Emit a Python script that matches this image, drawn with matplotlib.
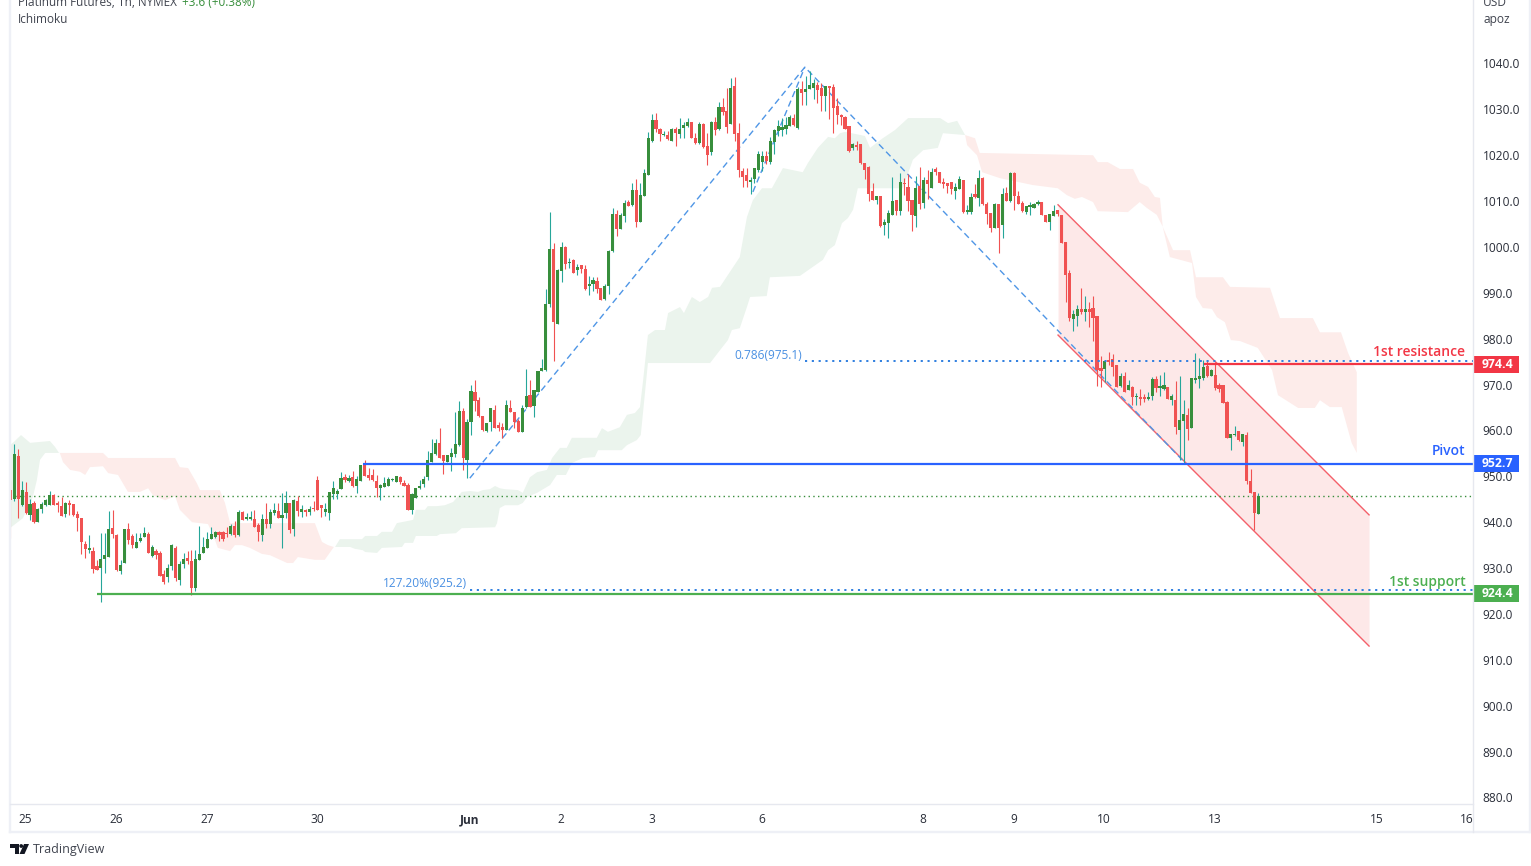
import numpy as np
import matplotlib
matplotlib.use("Agg")
import matplotlib.pyplot as plt
from matplotlib.lines import Line2D
from matplotlib.patches import Polygon, Circle, Rectangle
from matplotlib.transforms import blended_transform_factory, IdentityTransform

plt.rcParams['font.family'] = ['Open Sans', 'DejaVu Sans']

opens = [945.0,954.4,943.8,946.6,941.6,944.2,940.1,942.9,943.8,943.8,
945.9,944.2,943.5,941.7,944.0,944.0,941.8,940.9,935.3,934.0,
933.7,930.5,930.0,932.0,932.4,938.7,937.2,929.4,931.1,938.5,
937.0,934.4,935.9,936.8,937.4,932.6,933.7,933.3,928.7,928.1,
930.5,934.4,927.4,930.9,932.2,931.5,925.7,931.8,933.3,934.4,
936.3,936.8,937.9,937.9,937.7,937.4,939.2,937.2,942.2,940.7,
940.7,940.7,939.4,937.2,940.7,939.6,942.0,942.5,940.9,942.0,
944.2,938.5,944.6,942.2,942.7,942.2,943.1,949.2,943.8,942.2,
942.0,946.2,946.2,947.3,949.9,949.0,949.9,947.9,949.0,952.9,
950.3,950.3,949.0,947.5,947.7,947.9,949.2,948.8,949.9,948.5,
948.1,942.7,945.3,947.5,948.3,949.9,953.2,954.9,957.2,954.6,
953.1,954.3,954.9,956.8,964.2,953.6,961.8,968.4,966.6,963.2,
959.9,961.8,964.5,961.2,960.8,960.1,964.9,964.0,962.1,959.7,
965.1,967.7,965.3,968.4,973.0,973.2,987.6,999.6,983.2,994.8,
1000.0,996.5,997.2,995.0,996.1,995.2,991.5,991.9,992.6,991.1,
988.7,991.5,999.1,1007.2,1003.9,1006.8,1009.8,1009.2,1012.4,1005.4,
1011.1,1015.7,1023.1,1027.7,1025.7,1024.4,1024.4,1023.1,1025.7,1024.6,
1025.9,1026.3,1027.2,1023.8,1022.7,1026.8,1022.0,1020.7,1027.2,1025.7,
1030.5,1029.6,1026.8,1035.1,1024.8,1016.6,1015.7,1014.2,1014.8,1016.8,
1018.5,1019.8,1018.5,1022.9,1025.3,1025.5,1025.7,1026.4,1028.1,1026.0,
1034.4,1033.8,1034.4,1034.7,1035.3,1034.7,1032.9,1035.1,1034.9,1030.7,
1028.8,1028.3,1026.4,1021.6,1022.2,1022.4,1018.3,1017.4,1012.2,1010.2,
1011.1,1004.8,1005.2,1007.0,1010.2,1007.8,1014.0,1013.1,1010.2,1006.8,
1013.3,1009.6,1014.6,1012.9,1017.0,1016.3,1014.2,1013.9,1014.2,1012.2,
1012.6,1014.6,1007.6,1007.6,1011.5,1010.7,1015.0,1009.4,1007.4,1004.1,
1009.4,1004.8,1011.8,1010.0,1016.1,1011.1,1009.6,1007.6,1008.7,1008.5,
1009.4,1009.8,1007.0,1005.4,1006.8,1008.1,1007.0,1001.1,994.3,984.3,
985.0,986.5,985.8,986.5,986.7,984.9,973.6,973.4,975.4,975.6,
974.3,969.7,971.9,968.8,969.5,967.3,967.3,967.3,966.9,967.5,
971.2,969.3,969.0,969.5,966.6,966.6,960.1,962.1,963.4,960.5,
971.0,971.2,971.4,974.1,971.9,972.1,969.9,969.9,966.2,958.4,
959.0,959.9,957.5,959.0,949.0,946.6,941.8]

highs = [957.1,955.9,949.0,948.7,945.1,944.6,943.0,944.3,945.0,946.8,
946.1,944.7,945.6,944.5,944.9,944.0,942.4,940.9,935.8,937.2,
934.6,931.8,937.7,937.7,942.5,942.7,937.4,931.8,938.5,939.8,
937.4,937.7,937.7,939.0,937.9,935.0,934.2,933.7,929.6,930.9,
935.3,934.8,931.5,933.3,933.7,933.9,933.9,939.2,936.8,937.9,
939.0,938.1,938.1,938.1,939.0,939.6,940.3,942.7,942.5,942.0,
942.5,942.7,939.9,941.8,944.2,942.9,944.2,944.2,946.4,946.8,
944.2,945.1,945.7,943.8,942.9,943.5,944.6,950.1,943.8,944.2,
946.6,949.0,947.3,951.0,950.5,950.3,951.2,950.1,952.5,953.6,
951.8,951.6,950.3,948.3,949.9,949.9,949.6,950.1,950.1,949.2,
948.5,946.4,947.5,949.2,950.1,955.5,958.2,958.2,960.5,954.6,
954.6,956.2,964.0,966.4,965.0,962.4,969.9,971.0,967.4,963.2,
961.6,964.9,965.6,961.9,961.7,966.6,966.6,964.0,962.5,965.6,
973.4,971.0,968.8,973.0,975.6,990.8,1007.6,1000.9,995.2,1001.1,
1000.2,997.6,997.4,996.3,996.1,996.1,993.7,993.5,993.5,991.1,
991.9,999.3,1008.5,1008.1,1007.3,1010.2,1010.3,1014.0,1014.9,1013.9,
1017.1,1025.1,1029.0,1029.2,1025.9,1025.3,1025.3,1025.9,1026.2,1028.1,
1027.2,1028.1,1027.2,1024.8,1027.2,1027.0,1024.8,1027.5,1028.3,1031.6,
1032.5,1034.7,1036.8,1037.1,1027.0,1017.2,1017.2,1015.3,1017.2,1020.9,
1020.9,1020.9,1024.0,1025.7,1027.7,1028.1,1028.3,1028.8,1029.0,1034.9,
1036.2,1037.3,1038.4,1036.6,1036.0,1035.7,1035.1,1035.1,1035.5,1032.5,
1029.0,1028.5,1026.4,1022.7,1023.1,1022.4,1018.3,1017.7,1013.9,1011.1,
1011.1,1006.1,1008.1,1015.3,1010.2,1016.1,1015.0,1015.9,1010.2,1015.5,
1017.4,1015.3,1016.8,1017.2,1017.4,1016.3,1015.0,1013.9,1014.2,1014.0,
1015.5,1014.6,1009.2,1011.8,1013.7,1016.8,1015.3,1009.8,1007.4,1009.6,
1009.4,1012.9,1013.1,1016.3,1016.3,1012.2,1010.0,1008.9,1009.8,1009.6,
1010.2,1009.8,1007.0,1007.2,1009.1,1008.1,1007.0,1001.1,995.0,986.3,
987.3,991.1,989.3,988.0,989.3,984.9,976.2,975.2,977.1,976.7,
974.3,972.5,972.7,970.9,969.7,968.2,969.0,967.9,968.4,971.7,
971.9,972.1,972.7,969.5,967.9,970.8,971.9,966.6,964.9,971.4,
976.9,975.8,975.4,975.2,973.4,974.9,970.3,969.9,966.4,959.2,
961.0,959.9,959.2,959.7,951.6,946.6,946.4]

lows = [944.6,941.0,943.6,941.8,940.5,939.9,940.0,941.9,943.6,943.8,
943.7,942.2,941.4,941.2,941.6,941.4,938.1,933.1,932.2,933.3,
928.9,929.6,922.5,928.9,932.4,936.6,929.4,928.7,931.1,935.3,
934.4,934.4,935.7,936.8,933.3,932.4,932.0,928.3,926.5,927.0,
929.6,927.1,926.3,930.0,930.9,924.2,924.9,931.8,933.3,934.4,
936.3,936.6,935.9,935.9,936.8,937.2,936.8,937.0,940.5,940.5,
940.5,939.0,935.9,935.9,938.7,938.7,941.6,940.9,934.4,940.9,
937.7,937.0,941.4,941.1,941.4,941.6,942.5,942.7,941.1,941.4,
940.5,945.1,945.1,947.3,948.8,948.8,947.7,946.4,949.0,950.1,
949.2,949.0,945.5,944.9,947.7,947.9,949.0,948.8,948.3,947.9,
942.7,941.8,945.3,947.2,947.7,949.2,953.2,954.6,953.9,950.5,
953.1,951.2,954.3,956.6,951.4,949.7,959.0,964.2,962.9,959.9,
959.7,959.8,960.5,959.9,958.3,960.1,964.0,960.5,959.7,959.7,
965.0,965.1,963.0,968.4,973.0,973.0,987.0,975.1,983.2,992.4,
995.2,995.5,994.3,993.9,994.3,990.6,989.5,990.4,989.9,988.4,
988.4,989.7,998.9,1002.4,1003.9,1005.4,1008.9,1009.0,1004.3,1005.4,
1011.1,1015.7,1022.9,1025.1,1023.1,1024.2,1023.3,1023.1,1022.0,1023.8,
1023.8,1026.1,1023.8,1022.5,1022.5,1021.6,1017.9,1020.0,1024.4,1025.5,
1028.8,1024.8,1026.8,1023.1,1015.3,1013.1,1013.1,1011.5,1014.0,1016.3,
1016.6,1018.1,1018.1,1020.3,1024.2,1024.3,1024.6,1026.4,1026.4,1025.7,
1031.0,1031.0,1034.4,1032.3,1031.4,1029.6,1029.6,1027.9,1024.9,1026.8,
1026.6,1025.7,1020.7,1021.1,1021.1,1018.1,1014.8,1010.0,1010.2,1009.4,
1004.4,1002.6,1002.0,1007.0,1007.0,1007.0,1011.3,1007.8,1003.5,1004.4,
1008.3,1008.5,1010.5,1012.9,1015.7,1013.9,1012.9,1011.8,1011.5,1010.5,
1012.6,1007.4,1007.2,1007.2,1010.7,1009.0,1009.2,1005.0,1003.3,1004.1,
998.7,1002.0,1010.0,1009.8,1008.1,1009.4,1007.6,1007.2,1007.0,1008.5,
1009.2,1007.0,1005.4,1003.7,1006.8,1006.8,1000.9,988.0,983.9,981.7,
982.8,985.4,983.9,982.6,979.5,969.7,969.5,970.6,974.3,971.9,
969.5,969.5,968.4,968.8,965.6,965.6,965.6,966.2,966.7,966.7,
968.4,967.5,968.8,966.9,965.6,959.2,953.6,952.7,957.9,960.5,
970.3,969.3,971.0,971.7,971.9,968.8,968.4,966.0,958.4,955.7,
958.8,957.7,956.6,948.3,946.4,938.3,941.8]

closes = [954.9,945.1,947.0,941.9,944.0,940.1,942.9,944.0,944.9,945.9,
943.8,943.8,941.4,944.2,943.8,941.6,941.0,935.7,934.2,934.2,
929.8,929.6,932.0,932.9,938.5,937.4,929.6,930.7,938.5,936.1,
935.0,935.7,936.6,937.7,933.3,934.6,932.9,928.3,927.0,930.0,
935.0,927.8,930.9,932.0,931.5,925.7,932.0,933.1,934.6,936.3,
937.4,937.9,937.2,936.3,937.4,939.2,937.2,942.2,940.5,941.1,
941.1,939.0,937.9,940.7,939.6,942.2,942.7,940.9,941.6,944.2,
938.3,944.9,942.5,942.9,942.2,942.9,942.9,942.7,943.1,942.9,
946.6,947.5,946.8,949.6,949.2,949.6,947.9,949.4,952.5,950.1,
949.6,949.2,947.5,948.1,948.6,949.4,949.4,950.1,948.8,947.9,
942.7,946.2,947.5,947.9,949.4,953.6,955.0,957.2,954.1,953.3,
954.6,955.0,957.0,964.2,953.9,961.8,968.6,966.4,963.2,960.1,
961.6,964.9,960.5,960.5,960.1,965.6,964.0,961.8,959.7,964.9,
967.5,965.1,968.8,973.0,973.6,987.6,999.6,983.6,995.0,1000.0,
996.3,996.7,994.3,995.6,995.1,990.8,991.9,992.8,990.8,988.4,
991.5,999.1,1007.2,1003.9,1007.0,1009.6,1008.9,1012.4,1005.4,1011.3,
1016.2,1023.8,1027.7,1025.7,1024.6,1024.6,1023.5,1025.7,1024.8,1025.7,
1026.6,1027.2,1023.8,1022.7,1026.8,1021.8,1020.0,1027.2,1025.5,1030.5,
1029.4,1026.1,1034.7,1024.6,1016.8,1015.3,1014.4,1014.4,1017.2,1020.3,
1019.8,1018.7,1023.1,1025.5,1026.4,1026.2,1026.6,1028.3,1026.6,1034.4,
1033.6,1034.4,1035.3,1035.7,1034.2,1032.9,1035.1,1034.7,1030.3,1028.8,
1028.3,1025.7,1020.9,1022.4,1021.8,1018.3,1016.8,1011.5,1010.2,1011.1,
1004.6,1005.4,1007.4,1010.0,1007.8,1014.2,1013.7,1010.0,1007.0,1012.9,
1009.4,1014.6,1013.7,1016.3,1016.3,1013.9,1013.7,1013.3,1012.6,1013.1,
1014.8,1007.6,1008.1,1010.9,1010.9,1015.0,1009.4,1007.2,1004.1,1009.4,
1004.1,1011.5,1010.0,1016.1,1011.1,1009.4,1007.8,1008.9,1009.2,1009.4,
1009.6,1007.0,1005.4,1007.2,1007.8,1007.2,1000.9,993.9,984.5,985.4,
986.5,985.8,986.5,985.8,984.5,973.2,973.0,975.2,974.9,973.8,
969.5,971.9,968.4,969.9,967.3,967.5,966.9,966.9,967.1,971.2,
969.3,969.5,969.9,966.9,967.5,960.8,962.3,963.6,960.3,971.4,
971.4,971.9,973.8,971.9,973.2,969.3,969.0,966.0,958.4,959.2,
959.2,957.9,959.2,949.0,946.4,942.0,945.7]

# candle clipped at the left edge of the pane
clipped_open, clipped_high, clipped_low, clipped_close = 947.0, 949.0, 936.6, 944.9

# Ichimoku cloud outlines (time in bar units, price)
g1_top_t = [-1.1,-0.1,1.7,4.0,9.0,10.3,11.3]
g1_top_p = [956.8,957.5,959.0,957.3,957.7,956.4,955.1]
g1_bot_t = [-1.1,2.2,4.7,5.7,6.5,7.8,11.3]
g1_bot_p = [938.7,940.9,945.5,949.2,953.6,955.1,955.1]

r1_top_t = [11.0,22.4,23.7,40.6,41.8,43.9,46.1,46.9,51.9,53.2,54.5,75.9,77.7,79.2,80.7]
r1_top_p = [955.1,955.1,954.0,954.0,952.0,951.8,948.5,947.0,947.0,944.2,939.8,939.8,935.7,935.0,934.6]
r1_bot_t = [11.5,12.3,14.1,16.6,17.9,19.1,22.4,23.7,26.2,28.7,31.7,33.8,35.0,38.1,40.6,41.8,44.9,48.9,50.2,51.4,54.5,55.7,57.5,59.5,62.5,64.6,68.9,70.4,71.6,75.9,78.4,80.7]
r1_bot_p = [955.1,953.1,951.4,951.0,950.3,952.0,952.2,950.7,950.3,946.6,946.6,947.4,945.9,944.8,945.7,942.7,940.0,939.6,937.2,934.4,933.7,935.0,935.0,934.4,933.1,932.8,931.1,931.1,932.4,931.8,931.8,934.6]

g2_top_t = [81.0,82.2,87.8,88.6,91.6,92.8,95.4,96.6,100.7,101.4,103.7,104.4,106.7,108.7,110.8,113.0,115.1,117.1,118.3,120.1,121.4,122.6,123.9,127.2,128.4,130.2,132.0,134.5,135.8,137.8,139.5,140.8,147.1,148.4,149.9,152.9,154.7,156.7,158.0,158.8,160.0,161.8,164.3,165.1,168.1,169.1,171.1,173.1,175.2,176.2,178.2,180.2,183.2,185.0,186.5,188.8,191.3,194.1,199.1,200.4,202.9,205.5,207.2,208.5,209.8,214.8,216.1,219.3,222.4,225.7,233.8,235.8,238.1,240.1]
g2_top_p = [934.6,936.3,936.3,937.0,937.0,937.9,937.9,939.8,940.5,942.7,942.7,943.5,943.5,943.7,944.4,946.6,946.8,946.6,947.0,947.2,947.9,947.4,947.2,947.0,946.4,949.8,950.9,951.4,954.0,956.2,956.2,958.4,958.4,960.5,959.7,960.7,963.4,963.8,965.1,971.0,980.8,981.9,981.9,985.6,986.9,985.6,989.1,988.0,989.1,991.1,991.3,993.9,997.8,1006.5,1010.2,1012.8,1012.8,1017.2,1016.3,1018.3,1021.6,1024.0,1023.7,1024.8,1025.1,1024.2,1021.6,1023.7,1025.5,1028.1,1028.1,1027.0,1027.5,1024.4]
g2_bot_t = [81.0,84.8,86.0,88.0,88.6,91.6,92.8,97.9,98.6,100.7,101.4,106.7,107.5,111.5,113.0,121.4,121.9,122.6,123.9,127.2,128.4,129.5,132.0,135.3,137.0,139.3,140.8,143.6,146.6,147.4,153.4,154.7,157.2,158.2,160.0,175.7,178.2,180.2,181.2,183.2,185.0,185.8,190.0,190.8,198.4,204.2,205.5,207.2,209.0,210.5,211.8,213.0,224.4,226.9,229.5,233.2,234.5,240.1]
g2_bot_p = [934.6,934.6,934.2,933.9,933.5,933.3,934.4,934.6,935.5,935.5,937.0,937.0,937.4,937.6,938.7,938.9,939.8,943.1,943.7,943.7,944.2,945.5,946.4,948.1,950.3,950.3,952.9,954.0,954.2,955.7,955.7,956.8,957.9,959.0,974.7,974.7,977.5,979.7,981.9,982.3,986.9,989.1,989.3,993.4,993.7,997.2,999.3,1000.4,1005.2,1006.3,1008.1,1012.8,1012.8,1019.0,1021.1,1021.6,1024.8,1024.4]

r2_top_t = [240.1,242.6,243.8,272.4,273.6,276.1,279.2,282.5,284.2,286.3,288.0,289.3,290.0,292.6,296.9,298.4,305.2,307.0,317.1,319.6,327.9,329.7,335.0,336.8,339.0,339.0]
r2_top_p = [1024.4,1023.7,1020.5,1020.0,1018.5,1018.5,1017.0,1017.0,1014.0,1013.1,1010.9,1010.7,1004.4,999.3,999.3,993.4,993.4,991.3,991.1,984.5,984.5,981.4,981.4,976.9,972.7,955.1]
r2_bot_t = [240.1,240.6,243.1,244.4,248.9,257.2,263.5,265.8,267.8,269.6,272.4,273.6,281.2,284.2,286.0,288.5,290.0,291.8,297.4,298.4,300.1,302.4,303.7,305.7,307.2,309.5,314.0,317.6,319.1,324.2,328.4,329.7,332.2,335.2,337.7,339.0]
r2_bot_p = [1024.4,1022.2,1020.0,1016.3,1015.0,1013.5,1012.8,1011.3,1010.5,1010.9,1009.8,1007.8,1007.6,1009.8,1008.5,1007.0,1004.4,997.8,996.5,989.1,986.7,986.5,984.7,983.6,979.7,979.5,978.0,973.2,967.7,964.9,964.9,966.6,965.1,965.1,957.3,955.1]

# drawings
channel_t = [265.1, 344.1]
channel_upper = [1009.2, 941.6]
channel_lower = [980.8, 913.0]
swing_t = [115.7, 200.8, 297.4]
swing_p = [949.6, 1039.2, 952.9]
swing2_t = [187.6, 200.8]
swing2_p = [1012.0, 1039.2]

levels = {'resistance': 974.4, 'pivot': 952.7, 'support': 924.4}
level_start = {'resistance': 302.2, 'pivot': 88.6, 'support': 21.0}
fib_786 = 975.1
fib_1272 = 925.2
fib_786_start = 200.8
fib_1272_start = 115.7

xtick_pos = [2.7,25.8,48.9,76.9,115.7,138.8,162.0,189.9,230.8,253.9,276.8,305.0,346.1,369.0]
xtick_lab = ['25','26','27','30','Jun','2','3','6','8','9','10','13','15','16']
ytick_vals = [880,890,900,910,920,930,940,950,960,970,980,990,1000,1010,1020,1030,1040]

W, H = 1531, 866
fig = plt.figure(figsize=(W/100, H/100), dpi=100, facecolor='white')
ax = fig.add_axes([10/W, (H-804)/H, (1473-10)/W, 804/H])
ax.set_xlim(-1.09, 370.5)
ax.set_ylim(878.57, 1053.84)
for s in ax.spines.values():
    s.set_visible(False)

TIME_SCALE = 3.96/3.937
GREEN_C, RED_C = '#ebf4ed', '#fdecea'

def cloud(tt, tp, bt, bp, color):
    xs = np.r_[np.array(tt), np.array(bt)[::-1]] * TIME_SCALE
    ys = np.r_[tp, bp[::-1]]
    ax.fill(xs, ys, color=color, lw=0, zorder=1)

cloud(g1_top_t, g1_top_p, g1_bot_t, g1_bot_p, GREEN_C)
cloud(r1_top_t, r1_top_p, r1_bot_t, r1_bot_p, RED_C)
cloud(g2_top_t, g2_top_p, g2_bot_t, g2_bot_p, GREEN_C)
cloud(r2_top_t, r2_top_p, r2_bot_t, r2_bot_p, RED_C)

# channel
ax.fill_between(channel_t, channel_upper, channel_lower, color='#fde8e8', lw=0, zorder=1.5)
ax.plot(channel_t, channel_upper, color='#f4606a', lw=1.0, zorder=2)
ax.plot(channel_t, channel_lower, color='#f4606a', lw=1.0, zorder=2)

# swing dashed lines
BLUE_D = '#4f96e6'
ax.plot(swing_t, swing_p, color=BLUE_D, lw=1.0, ls=(0, (4.6, 2.8)), zorder=2)
ax.plot(swing2_t, swing2_p, color=BLUE_D, lw=1.0, ls=(0, (4.6, 2.8)), zorder=2)

# candles
o, h, l, c = map(np.array, (opens, highs, lows, closes))
xs = np.arange(len(o))
up = c >= o
RED, GRN, TEAL = '#f05252', '#388e3c', '#26a69a'
ax.vlines(xs[up], l[up], h[up], color=TEAL, lw=0.8, zorder=3)
ax.vlines(xs[~up], l[~up], h[~up], color=RED, lw=0.8, zorder=3)
body_low = np.minimum(o, c)
body_h = np.maximum(np.abs(c - o), 0.3)
ax.bar(xs[up], body_h[up], bottom=body_low[up], width=0.8, color=GRN, lw=0, zorder=4)
ax.bar(xs[~up], body_h[~up], bottom=body_low[~up], width=0.8, color=RED, lw=0, zorder=4)
ax.vlines(-1, clipped_low, clipped_high, color=RED, lw=0.8, alpha=0.55, zorder=3)
ax.bar(-1, clipped_open - clipped_close, bottom=clipped_close, width=0.8, color=RED, lw=0, zorder=4)

# last price dotted
ax.axhline(closes[-1], color='#388e3c', lw=1.0, ls=(0, (1, 2.4)), zorder=2.5)

# fib dotted
FIB = '#2f7fe0'
right = ax.get_xlim()[1]
ax.hlines(fib_786, fib_786_start, right, color=FIB, lw=1.4, ls=(0, (1.1, 2.4)), zorder=5)
ax.hlines(fib_1272, fib_1272_start, right, color=FIB, lw=1.4, ls=(0, (1.1, 2.4)), zorder=5)
ax.text(200.0, fib_786 + 1.3, '0.786(975.1)', color='#4a90e2', fontsize=8.6, ha='right', va='center', zorder=6)
ax.text(114.9, fib_1272 + 1.5, '127.20%(925.2)', color='#4a90e2', fontsize=8.6, ha='right', va='center', zorder=6)

# key levels
LEVEL_COL = {'resistance': '#f23645', 'pivot': '#2962ff', 'support': '#4caf50'}
LEVEL_TXT = {'resistance': '1st resistance', 'pivot': 'Pivot', 'support': '1st support'}
LEVEL_OFF = {'resistance': 2.7, 'pivot': 2.8, 'support': 2.6}
trans = blended_transform_factory(fig.transFigure, ax.transData)
TAG_HALF = 1.85
for k, v in levels.items():
    col = LEVEL_COL[k]
    ax.hlines(v, level_start[k], right, color=col, lw=1.6, zorder=5.5)
    ax.text(368.5, v + LEVEL_OFF[k], LEVEL_TXT[k], color=col, fontsize=10, fontweight='semibold',
            ha='right', va='center', zorder=6)
    ax.add_patch(Rectangle((1474/W, v - TAG_HALF), 45/W, 2 * TAG_HALF, transform=trans,
                           fc=col, ec='none', clip_on=False, zorder=7))
    ax.text(1497/W, v, f'{v:.1f}', transform=trans, color='white', fontsize=8.8, fontweight='bold',
            ha='center', va='center', zorder=8, clip_on=False)

# axes ticks
ax.yaxis.tick_right()
ax.set_yticks(ytick_vals)
ax.set_yticklabels([f'{v:.1f}' for v in ytick_vals], fontsize=8.6, color='#2a2e39')
ax.set_xticks(xtick_pos)
ax.set_xticklabels(xtick_lab, fontsize=8.6, color='#2a2e39')
ax.tick_params(axis='both', length=0)
ax.tick_params(axis='x', pad=6.5)
ax.tick_params(axis='y', pad=7)
ax.get_xticklabels()[4].set_fontweight('bold')

# frame
FRAME = '#e6e8ef'
def hline(y, x0, x1, lw=1.0, col=FRAME):
    fig.add_artist(Line2D([x0/W, x1/W], [1-y/H, 1-y/H], color=col, lw=lw, zorder=10))
def vline(x, y0, y1, lw=1.0, col=FRAME):
    fig.add_artist(Line2D([x/W, x/W], [1-y0/H, 1-y1/H], color=col, lw=lw, zorder=10))
vline(10, 0, 832, lw=1.7, col='#eef0f6')
hline(832, 10, 1530, lw=1.7, col='#eef0f6')
vline(1530, 0, 832, lw=1.7, col='#eef0f6')
vline(1473, 0, 832)
hline(804, 10, 1473)

# header texts
def ftext(x, y, s, **kw):
    fig.text(x/W, 1-y/H, s, va='center', **kw)
ftext(18, 2, 'Platinum Futures, 1h, NYMEX', fontsize=8.5, color='#40444f')
ftext(182, 2, '+3.6 (+0.38%)', fontsize=8.5, color='#388e3c')
ftext(18, 19.5, 'Ichimoku', fontsize=8.5, color='#40444f')
ftext(1483, 2.5, 'USD', fontsize=8.6, color='#40444f')
ftext(1483, 19, 'apoz', fontsize=8.6, color='#40444f')
ftext(33, 849.5, 'TradingView', fontsize=9.0, color='#40444f')

# TradingView logo
id_t = IdentityTransform()
k = '#131722'
def py(y): return H - y
fig.add_artist(Polygon([(10, py(844)), (19, py(844)), (19, py(854)), (15, py(854)), (15, py(848)), (10, py(848))],
                       closed=True, fc=k, ec='none', transform=id_t))
fig.add_artist(Circle((21.2, py(846)), 1.9, fc=k, ec='none', transform=id_t))
fig.add_artist(Polygon([(24, py(844)), (29, py(844)), (24.5, py(854)), (19.5, py(854))],
                       closed=True, fc=k, ec='none', transform=id_t))

fig.savefig('out.png', dpi=100, facecolor='white')
